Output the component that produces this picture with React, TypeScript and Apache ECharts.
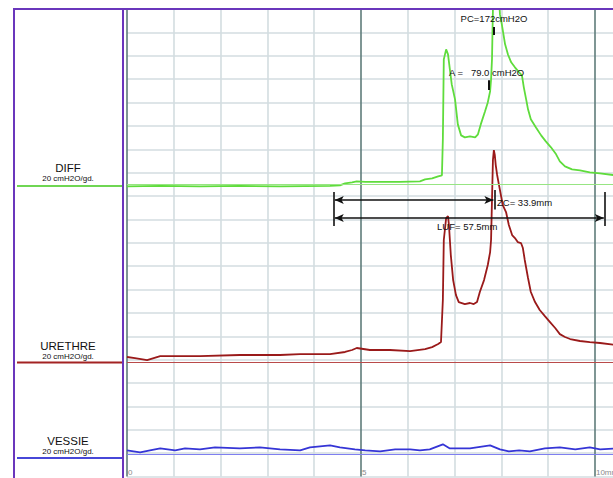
import React, { useEffect, useRef } from "react";
import * as echarts from "echarts";

// ---- axes ----
const X_MAX = 10.45; // cm
const Y_MAX = 400; // stacked channel scale (cmH2O-equivalent)
const Y_DIV = 20; // cmH2O per grid division
const X_LABELS: Record<number, string> = { 0: "0", 5: "5", 10: "10mm" };

// ---- channel baselines (vertical offsets on the stacked scale) ----
const DIFF_OFFSET = 250;
const URETHRE_OFFSET = 98;
const VESSIE_OFFSET = 19;

// ---- channel labels ----
const CHANNELS = ["DIFF", "URETHRE", "VESSIE"];
const CHANNEL_SCALE = "20 cmH2O/gd.";

// ---- measurements ----
const PC = 172; // cmH2O
const A_VALUE = 79.0; // cmH2O
const ZC_MM = 33.9;
const LUF_MM = 57.5;
const PROFILE_START = 4.44; // cm
const PC_POS = 7.84; // cm
const A_POS = 7.74; // cm

// ---- traces: [position cm, pressure cmH2O] ----
const diffTrace: [number, number][] = [
  [0.0, -1.7], [0.71, -1.3], [1.56, -1.7], [2.41, -1.3], [3.27, -1.7], [4.34, -1.3],
  [4.55, -0.9], [4.66, 0.9], [4.81, 1.7], [4.91, 2.6], [5.09, 2.1], [5.83, 2.1],
  [6.26, 2.6], [6.37, 4.3], [6.52, 5.1], [6.65, 6.8], [6.73, 7.7], [6.75, 38.5],
  [6.77, 106.9], [6.82, 115.5], [6.86, 111.2], [6.9, 98.4], [6.94, 85.5], [7.01, 72.7],
  [7.07, 51.3], [7.14, 41.9], [7.22, 40.2], [7.33, 41.1], [7.44, 40.2], [7.5, 42.8],
  [7.56, 51.3], [7.65, 62.4], [7.71, 70.1], [7.76, 79.6], [7.78, 89.8], [7.8, 106.9],
  [7.82, 150], [7.84, 172], [7.91, 168], [7.95, 160], [7.97, 145.4], [8.01, 136.9],
  [8.08, 119.8], [8.14, 111.2], [8.21, 104.4], [8.29, 100.1], [8.38, 95.8], [8.44, 93.2],
  [8.48, 83.0], [8.53, 72.7], [8.57, 64.2], [8.63, 55.6], [8.74, 48.7], [8.85, 41.9],
  [8.95, 36.8], [9.06, 31.7], [9.17, 25.7], [9.25, 19.7], [9.36, 15.4], [9.51, 12.8],
  [9.68, 12.0], [9.89, 10.3], [10.11, 9.4], [10.45, 7.7],
];

const urethreTrace: [number, number][] = [
  [0.0, 4.3], [0.17, 3.4], [0.43, 1.7], [0.71, 5.1], [1.56, 5.1], [2.41, 6.0],
  [3.27, 6.0], [3.7, 6.8], [4.34, 6.8], [4.66, 8.6], [4.81, 10.3], [4.91, 12.0],
  [5.19, 10.3], [5.62, 10.3], [6.05, 9.4], [6.37, 11.1], [6.52, 12.8], [6.65, 15.4],
  [6.71, 17.1], [6.75, 53.0], [6.77, 104.4], [6.82, 123.2], [6.86, 124.9], [6.88, 117.2],
  [6.92, 91.5], [6.97, 70.1], [7.03, 57.3], [7.09, 51.3], [7.22, 49.6], [7.33, 50.5],
  [7.41, 49.6], [7.48, 51.3], [7.54, 59.9], [7.63, 70.1], [7.71, 83.0], [7.76, 94.1],
  [7.78, 104.4], [7.8, 138.6], [7.82, 172.8], [7.84, 181.3], [7.86, 177.1], [7.88, 168.5],
  [7.91, 160.0], [7.95, 151.4], [7.99, 142.9], [8.03, 134.3], [8.1, 128.3], [8.16, 117.2],
  [8.23, 108.6], [8.29, 106.1], [8.35, 102.6], [8.42, 101.8], [8.46, 97.5], [8.5, 87.3],
  [8.57, 71.9], [8.63, 59.9], [8.72, 51.3], [8.82, 44.5], [8.93, 39.3], [9.04, 34.2],
  [9.15, 29.1], [9.25, 23.9], [9.36, 21.4], [9.47, 19.7], [9.68, 18.0], [9.89, 17.1],
  [10.11, 16.3], [10.45, 14.5],
];

const vessieTrace: [number, number][] = [
  [0.0, 3.4], [0.28, 1.7], [0.49, 3.4], [0.71, 5.1], [1.03, 3.4], [1.24, 5.1],
  [1.56, 4.3], [1.88, 6.0], [2.41, 5.1], [2.84, 6.0], [3.27, 4.3], [3.7, 3.4],
  [3.91, 6.0], [4.34, 7.7], [4.55, 6.0], [4.87, 4.3], [5.09, 3.4], [5.41, 2.6],
  [5.73, 4.3], [6.05, 4.3], [6.26, 3.4], [6.47, 4.3], [6.75, 8.6], [6.9, 5.1],
  [7.33, 5.1], [7.76, 7.7], [7.97, 4.3], [8.16, 2.6], [8.38, 3.4], [8.61, 2.6],
  [8.93, 5.1], [9.25, 6.0], [9.58, 4.3], [9.89, 6.0], [10.11, 4.3], [10.45, 5.1],
];

// ---- annotation heights on stacked scale ----
const ZC_Y = 236.6;
const LUF_Y = 221.2;
const BRACKET_LOW = 214.3;
const BRACKET_HIGH = 243.4;
const ZC_TICK_LOW = 228.4;
const ZC_TICK_HIGH = 245.1;
const PC_TICK = [377.8, 384.6];
const A_TICK = [330.7, 339.0];

const GREEN = "#5fdc3c";
const RED = "#9a1a1a";
const BLUE = "#3535d6";
const PURPLE = "#6a36bc";
const FONT = "Liberation Sans, Arial, sans-serif";

function shift(data: [number, number][], off: number) {
  return data.map(([x, p]) => [x, p + off]);
}

export default function App() {
  const ref = useRef<HTMLDivElement>(null);

  useEffect(() => {
    if (!ref.current) return;
    const chart = echarts.init(ref.current, null, { renderer: "svg" });
    const black = { color: "#111", width: 1.6, type: "solid" as const };
    const zcEnd = PROFILE_START + ZC_MM / 10;
    const lufEnd = PROFILE_START + LUF_MM / 10;

    const panelLabel = (name: string, y: number) => [
      {
        type: "text",
        x: 68,
        y: y,
        style: { text: name, font: `11.5px ${FONT}`, fill: "#111", align: "center", verticalAlign: "middle" },
      },
      {
        type: "text",
        x: 68,
        y: y + 10,
        style: { text: CHANNEL_SCALE, font: `8px ${FONT}`, fill: "#111", align: "center", verticalAlign: "middle" },
      },
    ];

    chart.setOption({
      animation: false,
      backgroundColor: "#ffffff",
      grid: {
        left: 127,
        width: 489,
        top: 9,
        height: 467.6,
        containLabel: false,
        outerBoundsMode: "none",
      },
      xAxis: {
        type: "value",
        min: 0,
        max: X_MAX,
        interval: 1,
        axisLine: { show: false },
        axisTick: { show: false },
        axisLabel: {
          inside: true,
          margin: 8,
          verticalAlign: "top",
          align: "left",
          padding: [0, 0, 0, 1],
          color: "#8a8a8a",
          fontSize: 8,
          fontFamily: FONT,
          formatter: (v: number) => X_LABELS[Math.round(v * 100) / 100] ?? "",
        },
        splitLine: {
          show: true,
          lineStyle: { color: ["#5f7c7a", "#d3dde0", "#d3dde0", "#d3dde0", "#d3dde0"], width: 1.6 },
        },
      },
      yAxis: {
        type: "value",
        min: 0,
        max: Y_MAX,
        interval: Y_DIV,
        axisLine: { show: false },
        axisTick: { show: false },
        axisLabel: { show: false },
        splitLine: { show: true, lineStyle: { color: "#d3dde0", width: 1.6 } },
      },
      series: [
        {
          name: CHANNELS[0],
          type: "line",
          data: shift(diffTrace, DIFF_OFFSET),
          showSymbol: false,
          clip: true,
          lineStyle: { color: GREEN, width: 1.8 },
          z: 4,
          markLine: {
            silent: true,
            symbol: "none",
            label: { show: false },
            lineStyle: { color: "#97e583", width: 1.2, type: "solid" },
            data: [{ yAxis: DIFF_OFFSET }],
          },
        },
        {
          name: CHANNELS[1],
          type: "line",
          data: shift(urethreTrace, URETHRE_OFFSET),
          showSymbol: false,
          clip: true,
          lineStyle: { color: RED, width: 1.8 },
          z: 3,
          markLine: {
            silent: true,
            symbol: "none",
            label: { show: false },
            lineStyle: { color: "#b94a4a", width: 1, type: "solid" },
            data: [{ yAxis: URETHRE_OFFSET }],
          },
        },
        {
          name: CHANNELS[2],
          type: "line",
          data: shift(vessieTrace, VESSIE_OFFSET),
          showSymbol: false,
          clip: true,
          lineStyle: { color: BLUE, width: 1.8 },
          z: 3,
          markLine: {
            silent: true,
            symbol: "none",
            label: { show: false },
            lineStyle: { color: "#7f7ff0", width: 1.2, type: "solid" },
            data: [{ yAxis: VESSIE_OFFSET }],
          },
        },
        {
          name: "annotations",
          type: "line",
          data: [],
          z: 6,
          markLine: {
            silent: true,
            label: { show: false },
            lineStyle: black,
            symbol: "none",
            data: [
              [
                { coord: [PROFILE_START, ZC_Y], symbol: "arrow", symbolSize: [6, 9] },
                { coord: [zcEnd, ZC_Y], symbol: "arrow", symbolSize: [6, 9] },
              ],
              [
                { coord: [PROFILE_START, LUF_Y], symbol: "arrow", symbolSize: [6, 9] },
                { coord: [lufEnd, LUF_Y], symbol: "arrow", symbolSize: [6, 9] },
              ],
              [{ coord: [PROFILE_START - 0.02, BRACKET_LOW] }, { coord: [PROFILE_START - 0.02, BRACKET_HIGH] }],
              [{ coord: [lufEnd + 0.02, BRACKET_LOW] }, { coord: [lufEnd + 0.02, BRACKET_HIGH] }],
              [{ coord: [zcEnd + 0.02, ZC_TICK_LOW] }, { coord: [zcEnd + 0.02, ZC_TICK_HIGH] }],
              [
                { coord: [PC_POS, PC_TICK[0]], lineStyle: { width: 2 } },
                { coord: [PC_POS, PC_TICK[1]] },
              ],
              [
                { coord: [A_POS, A_TICK[0]], lineStyle: { width: 2 } },
                { coord: [A_POS, A_TICK[1]] },
              ],
            ],
          },
        },
      ],
      graphic: [
        {
          type: "rect",
          silent: true,
          shape: { x: 14, y: 9, width: 700, height: 600 },
          style: { fill: "none", stroke: PURPLE, lineWidth: 2 },
          z: 10,
        },
        {
          type: "line",
          silent: true,
          shape: { x1: 123, y1: 9, x2: 123, y2: 480 },
          style: { stroke: PURPLE, lineWidth: 2 },
          z: 10,
        },
        ...panelLabel(CHANNELS[0], 168),
        { type: "line", shape: { x1: 17, y1: 186, x2: 122, y2: 186 }, style: { stroke: "#6fd653", lineWidth: 2 } },
        ...panelLabel(CHANNELS[1], 346),
        { type: "line", shape: { x1: 17, y1: 362.5, x2: 122, y2: 362.5 }, style: { stroke: "#a32323", lineWidth: 2 } },
        ...panelLabel(CHANNELS[2], 441),
        { type: "line", shape: { x1: 17, y1: 458, x2: 122, y2: 458 }, style: { stroke: "#4747d8", lineWidth: 2 } },
        {
          type: "text",
          x: 494,
          y: 18,
          z: 12,
          style: { text: `PC=${PC}cmH2O`, font: `9.5px ${FONT}`, fill: "#111", align: "center", verticalAlign: "middle" },
        },
        {
          type: "text",
          x: 449,
          y: 72,
          z: 12,
          style: { text: `A =   ${A_VALUE.toFixed(1)} cmH2O`, font: `9.5px ${FONT}`, fill: "#111", align: "left", verticalAlign: "middle" },
        },
        {
          type: "text",
          x: 497,
          y: 202,
          z: 12,
          style: { text: `ZC= ${ZC_MM}mm`, font: `9.5px ${FONT}`, fill: "#111", align: "left", verticalAlign: "middle" },
        },
        {
          type: "text",
          x: 437,
          y: 226,
          z: 12,
          style: { text: `LUF= ${LUF_MM}mm`, font: `9.5px ${FONT}`, fill: "#111", align: "left", verticalAlign: "middle" },
        },
      ],
    });
    return () => chart.dispose();
  }, []);

  return (
    <div
      ref={ref}
      style={{ position: "fixed", left: 0, top: 0, width: 613, height: 478, background: "#fff" }}
    />
  );
}
